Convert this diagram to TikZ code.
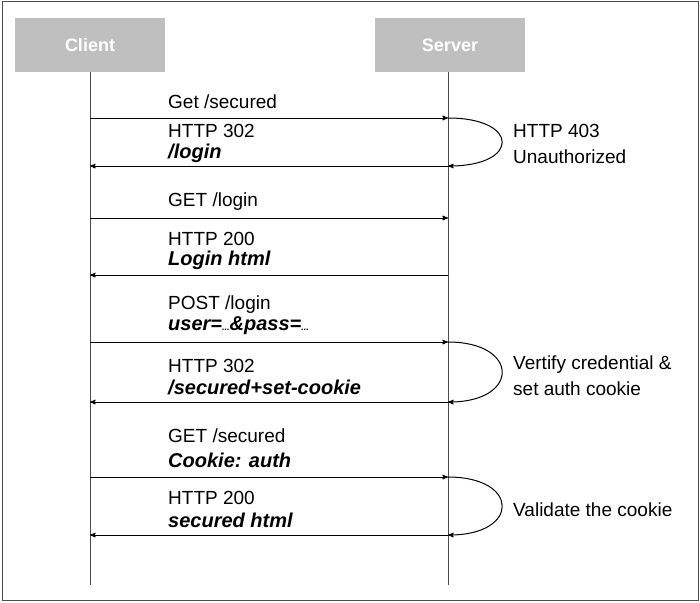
\documentclass[tikz,border=0pt]{standalone}
\usepackage{fontspec}
\setmainfont{Liberation Sans}
\usetikzlibrary{arrows}
\tikzstyle{actor} = [rectangle, fill=black!25, text=white, font=\fontsize{18}{20}\selectfont\bfseries, minimum width=150pt, minimum height=54pt, inner sep=0pt]
\tikzstyle{msg} = [anchor=west, inner sep=0pt, font=\fontsize{19}{22}\selectfont]
\tikzstyle{msgb} = [msg, font=\fontsize{20}{22}\selectfont\bfseries\itshape]
\tikzstyle{life} = [black!70, line width=1pt]
\tikzstyle{call} = [->, >=stealth', line width=1pt]

\begin{document}
\begin{tikzpicture}[x=1pt,y=-1pt]
\useasboundingbox (0,0) rectangle (700,602);
\draw[black!70, line width=1pt] (2,2) rectangle (698,600);
\node [actor] (client) at (90,45) {Client};
\node [actor] (server) at (450,45) {Server};
\coordinate (cend) at (90,585);
\coordinate (send) at (448,585);
\draw [life] (client.south) -- (cend);
\draw [life] (server.south -| send) -- (send);
% message end points on the lifelines
\foreach \n/\y in {1/118,2/166,3/218,4/275,5/342,6/402,7/477,8/535}{
    \coordinate (c\n) at (90,\y);
    \coordinate (s\n) at (448,\y);
}
\draw [call] (c1) -- (s1);
\draw [call] (s2) -- (c2);
\draw [call] (c3) -- (s3);
\draw [call] (s4) -- (c4);
\draw [call] (c5) -- (s5);
\draw [call] (s6) -- (c6);
\draw [call] (c7) -- (s7);
\draw [call] (s8) -- (c8);
% server side loops
\draw [call] (s1) .. controls (520,118) and (520,166) .. (s2);
\draw [call] (s5) .. controls (520,342) and (520,402) .. (s6);
\draw [call] (s7) .. controls (520,477) and (520,535) .. (s8);
% labels
\node [msg] (l1) at (168,102) {Get /secured};
\node [msg] (l2) at (168,131) {HTTP 302};
\node [msgb] (l2b) at (168,153) {/login};
\node [msg] (l3) at (168,202) {GET /login};
\node [msg] (l4) at (168,239) {HTTP 200};
\node [msgb] (l4b) at (168,260) {Login html};
\node [msg] (l5) at (168,305) {POST /login};
\node [msgb] (l5b) at (168,326) {user={\fontsize{9}{9}\selectfont...}\&pass={\fontsize{9}{9}\selectfont...}};
\node [msg] (l6) at (168,366) {HTTP 302};
\node [msgb] (l6b) at (168,387) {/secured+set-cookie};
\node [msg] (l7) at (168,436) {GET /secured};
\node [msgb] (l7b) at (168,460) {Cookie: auth};
\node [msg] (l8) at (168,498) {HTTP 200};
\node [msgb] (l8b) at (168,520) {secured html};
\node [msg] (n1) at (513,131) {HTTP 403};
\node [msg] (n1b) at (513,157) {Unauthorized};
\node [msg] (n2) at (513,365) {Vertify credential \&};
\node [msg] (n2b) at (513,389) {set auth cookie};
\node [msg] (n3) at (513,510) {Validate the cookie};
\end{tikzpicture}
\end{document}
